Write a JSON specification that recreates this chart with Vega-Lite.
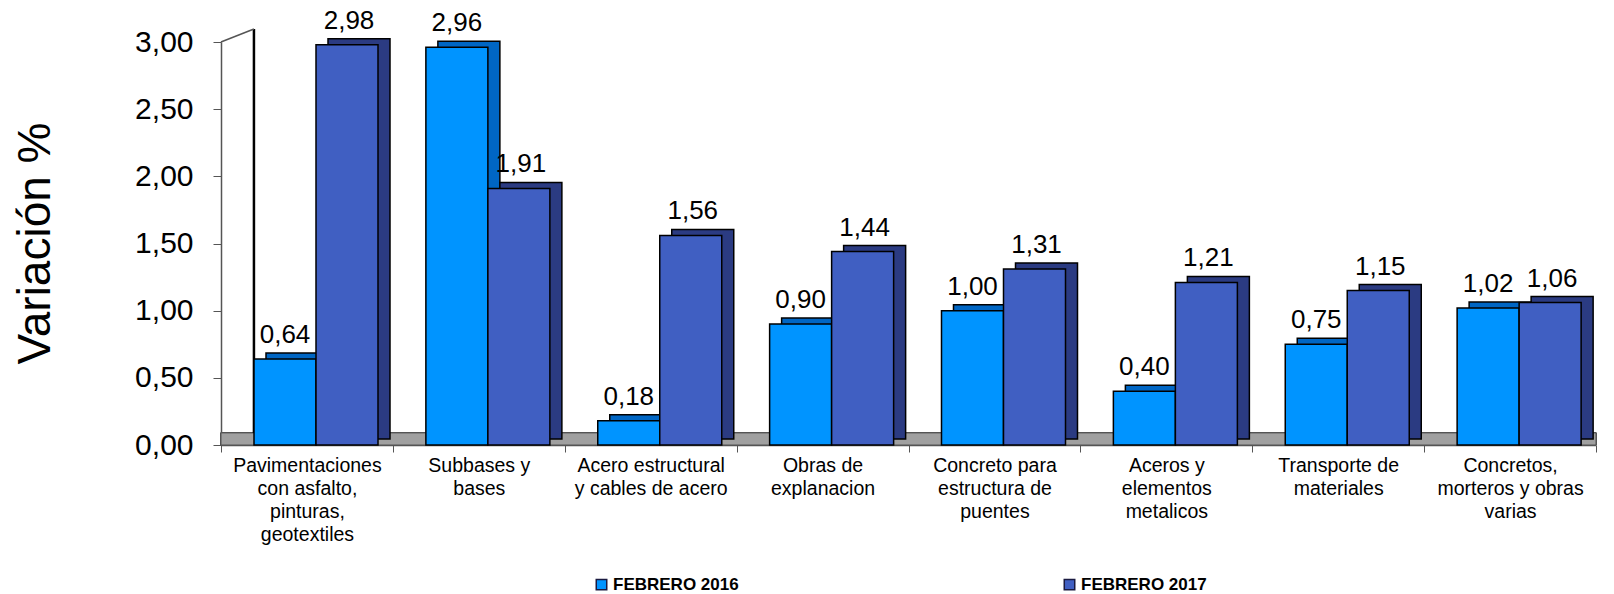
{
  "$schema": "https://vega.github.io/schema/vega-lite/v6.json",
  "autosize": {"type": "none"},
  "width": 1375,
  "height": 403,
  "padding": {"left": 221, "top": 42, "right": 18, "bottom": 149},
  "background": "white",
  "config": {
    "font": "Liberation Sans",
    "view": {"stroke": null},
    "locale": {"number": {"decimal": ",", "thousands": ".", "grouping": [3], "currency": ["", ""]}}
  },
  "datasets": {
    "wall": [{"category": "Pavimentaciones|con asfalto,|pinturas,|geotextiles", "bottom": 0.09, "top": 3}]
  },
  "data": {
    "values": [
      {"category": "Pavimentaciones|con asfalto,|pinturas,|geotextiles", "series": "FEBRERO 2016", "value": 0.64},
      {"category": "Pavimentaciones|con asfalto,|pinturas,|geotextiles", "series": "FEBRERO 2017", "value": 2.98},
      {"category": "Subbases y|bases", "series": "FEBRERO 2016", "value": 2.96},
      {"category": "Subbases y|bases", "series": "FEBRERO 2017", "value": 1.91},
      {"category": "Acero estructural|y cables de acero", "series": "FEBRERO 2016", "value": 0.18},
      {"category": "Acero estructural|y cables de acero", "series": "FEBRERO 2017", "value": 1.56},
      {"category": "Obras de|explanacion", "series": "FEBRERO 2016", "value": 0.90},
      {"category": "Obras de|explanacion", "series": "FEBRERO 2017", "value": 1.44},
      {"category": "Concreto para|estructura de|puentes", "series": "FEBRERO 2016", "value": 1.00},
      {"category": "Concreto para|estructura de|puentes", "series": "FEBRERO 2017", "value": 1.31},
      {"category": "Aceros y|elementos|metalicos", "series": "FEBRERO 2016", "value": 0.40},
      {"category": "Aceros y|elementos|metalicos", "series": "FEBRERO 2017", "value": 1.21},
      {"category": "Transporte de|materiales", "series": "FEBRERO 2016", "value": 0.75},
      {"category": "Transporte de|materiales", "series": "FEBRERO 2017", "value": 1.15},
      {"category": "Concretos,|morteros y obras|varias", "series": "FEBRERO 2016", "value": 1.02},
      {"category": "Concretos,|morteros y obras|varias", "series": "FEBRERO 2017", "value": 1.06}
    ]
  },
  "encoding": {
    "x": {
      "field": "category",
      "type": "nominal",
      "sort": null,
      "scale": {"paddingInner": 0, "paddingOuter": 0},
      "axis": {
        "title": null,
        "labelAngle": 0,
        "labelExpr": "split(datum.label, '|')",
        "labelFontSize": 19.5,
        "labelLineHeight": 23,
        "labelBaseline": "top",
        "labelColor": "#000000",
        "labelPadding": 4,
        "labelLimit": 200,
        "tickBand": "extent",
        "tickSize": 7,
        "tickColor": "#555555",
        "domainColor": "#555555",
        "domainWidth": 1.5,
        "grid": false
      }
    },
    "y": {
      "field": "value",
      "type": "quantitative",
      "scale": {"domain": [0, 3]},
      "axis": {
        "title": "Variación %",
        "titleFontSize": 46,
        "titleFontWeight": "normal",
        "titleColor": "#000000",
        "titleX": -186,
        "titleY": 201,
        "titleAngle": -90,
        "titleAlign": "center",
        "titleBaseline": "middle",
        "values": [0, 0.5, 1, 1.5, 2, 2.5, 3],
        "format": ".2f",
        "labelFontSize": 30,
        "labelColor": "#000000",
        "labelPadding": 20,
        "tickSize": 8,
        "tickColor": "#555555",
        "domainColor": "#555555",
        "domainWidth": 1.5,
        "grid": false
      }
    }
  },
  "layer": [
    {
      "mark": {"type": "rect", "color": "#A0A0A0", "stroke": "#555555", "strokeWidth": 1},
      "encoding": {
        "x": null,
        "y": {"datum": 0, "type": "quantitative"},
        "y2": {"datum": 0.09}
      }
    },
    {
      "data": {"name": "wall"},
      "mark": {"type": "rule", "color": "#000000", "strokeWidth": 2.5, "xOffset": -53, "y2Offset": -13},
      "encoding": {
        "x": {"field": "category", "type": "nominal", "sort": null},
        "y": {"field": "bottom", "type": "quantitative"},
        "y2": {"field": "top"}
      }
    },
    {
      "data": {"name": "wall"},
      "mark": {"type": "rule", "color": "#555555", "strokeWidth": 1.5, "xOffset": -86, "x2Offset": -53, "y2Offset": -13},
      "encoding": {
        "x": {"field": "category", "type": "nominal", "sort": null},
        "x2": {"field": "category"},
        "y": {"field": "top", "type": "quantitative"},
        "y2": {"field": "top"}
      }
    },
    {
      "mark": {"type": "bar", "stroke": "#000000", "strokeWidth": 1.5, "yOffset": -6, "y2Offset": -6},
      "encoding": {
        "xOffset": {"field": "series", "type": "nominal", "scale": {"range": [45, 169], "paddingInner": 0, "paddingOuter": 0}},
        "fill": {"field": "series", "type": "nominal", "scale": {"range": ["#0066C4", "#2B3B82"]}, "legend": null}
      }
    },
    {
      "mark": {"type": "bar", "stroke": "#000000", "strokeWidth": 1.5},
      "encoding": {
        "xOffset": {"field": "series", "type": "nominal", "scale": {"range": [33, 157], "paddingInner": 0, "paddingOuter": 0}},
        "color": {
          "field": "series",
          "type": "nominal",
          "scale": {"range": ["#0094FF", "#405FC2"]},
          "legend": {
            "title": null,
            "orient": "none",
            "legendX": 372,
            "legendY": 534,
            "direction": "horizontal",
            "columns": 2,
            "columnPadding": 322,
            "symbolType": "square",
            "symbolSize": 110,
            "symbolStrokeColor": "#1a1a40",
            "symbolStrokeWidth": 1.5,
            "labelFontSize": 17,
            "labelFontWeight": "bold",
            "labelColor": "#000000",
            "labelOffset": 3
          }
        }
      }
    },
    {
      "mark": {"type": "text", "fontSize": 26, "color": "#000000", "baseline": "alphabetic", "dy": -16},
      "encoding": {
        "xOffset": {"field": "series", "type": "nominal", "scale": {"range": [64, 128], "padding": 0}},
        "text": {"field": "value", "type": "quantitative", "format": ".2f"}
      }
    }
  ],
  "resolve": {"scale": {"xOffset": "independent"}}
}
